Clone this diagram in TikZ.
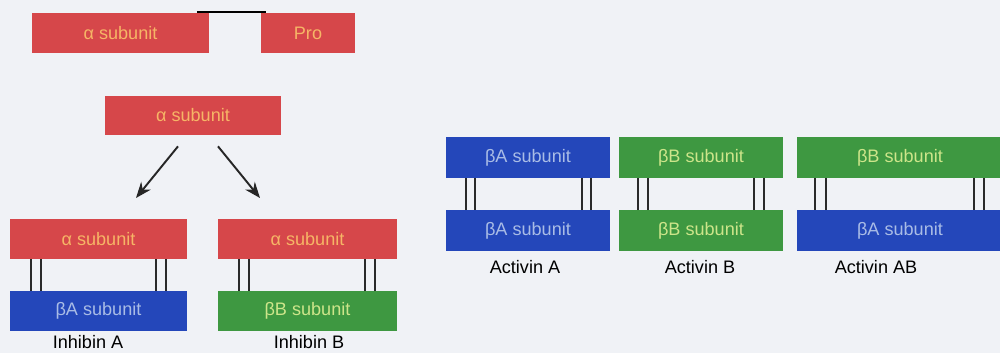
\documentclass[tikz,border=0pt]{standalone}
\usepackage{fontspec}
\setmainfont{Liberation Sans}
\usetikzlibrary{arrows.meta}
\definecolor{bgc}{HTML}{F0F2F6}
\definecolor{alphaC}{HTML}{D6474A}
\definecolor{alphaT}{HTML}{F6B566}
\definecolor{betaAC}{HTML}{2447BA}
\definecolor{betaAT}{HTML}{A9BCE6}
\definecolor{betaBC}{HTML}{3E9841}
\definecolor{betaBT}{HTML}{CDE58A}
\definecolor{linkC}{HTML}{2A2A2A}
\tikzset{
  box/.style={rectangle, inner sep=0pt, minimum height=0.8cm,
    font=\fontsize{10.3}{12}\selectfont},
  asub/.style={box, fill=alphaC, text=alphaT},
  basub/.style={box, fill=betaAC, text=betaAT},
  bbsub/.style={box, fill=betaBC, text=betaBT},
  tag/.style={font=\fontsize{10.3}{12}\selectfont, text=black},
  link/.style={draw=linkC, line width=1.1pt},
  arr/.style={draw=black!85, line width=1.1pt, -{Stealth[length=9pt,width=7pt]}}
}
\begin{document}
\begin{tikzpicture}[x=0.02cm, y=-0.02cm]
\fill[bgc] (0,0) rectangle (1000,353);
\useasboundingbox (0,0) rectangle (1000,353);

% precursor: alpha subunit and pro region
\node[asub, minimum width=3.54cm] (pa) at (120.5,33) {α subunit};
\node[asub, minimum width=1.88cm] (pro) at (308,33) {Pro};
\draw[draw=black, line width=1.1pt] ([xshift=-0.24cm,yshift=0.02cm]pa.north east) -- ([xshift=0.1cm,yshift=0.02cm]pro.north west);

% mature alpha subunit
\node[asub, minimum width=3.52cm, minimum height=0.78cm] (ma) at (193,115.5) {α subunit};
\coordinate (tipA) at (136,198);
\coordinate (tipB) at (260,198);
\draw[arr] ([xshift=-0.3cm,yshift=-0.22cm]ma.south) -- (tipA);
\draw[arr] ([xshift=0.5cm,yshift=-0.22cm]ma.south) -- (tipB);

% inhibin A
\node[asub, minimum width=3.54cm] (iaT) at (98.5,239) {α subunit};
\node[basub, minimum width=3.54cm] (iaB) at (98.5,311) {βA subunit};
\node[tag] (iaL) at (88,342) {Inhibin A};

% inhibin B
\node[asub, minimum width=3.58cm] (ibT) at (307.5,239) {α subunit};
\node[bbsub, minimum width=3.58cm] (ibB) at (307.5,311) {βB subunit};
\node[tag] (ibL) at (309,342) {Inhibin B};

% activin A
\node[basub, minimum width=3.28cm, minimum height=0.82cm] (aaT) at (528,157.5) {βA subunit};
\node[basub, minimum width=3.28cm, minimum height=0.82cm] (aaB) at (528,230.5) {βA subunit};
\node[tag] (aaL) at (525,267) {Activin A};

% activin B
\node[bbsub, minimum width=3.28cm, minimum height=0.82cm] (abT) at (701,157.5) {βB subunit};
\node[bbsub, minimum width=3.28cm, minimum height=0.82cm] (abB) at (701,230.5) {βB subunit};
\node[tag] (abL) at (700,267) {Activin B};

% activin AB
\node[bbsub, minimum width=4.12cm, minimum height=0.82cm] (acT) at (900,157.5) {βB subunit};
\node[basub, minimum width=4.12cm, minimum height=0.82cm] (acB) at (900,230.5) {βA subunit};
\node[tag] (acL) at (876,267) {Activin AB};

% disulfide links
\foreach \t/\b/\a/\bb/\c/\d in {iaT/iaB/21/31/-31/-21, ibT/ibB/21/31/-32/-22,
  aaT/aaB/20/29/-28/-19, abT/abB/19/29/-29/-19, acT/acB/18/29/-29/-19}{
  \draw[link] ([xshift=\a*0.02cm]\t.south west) -- ([xshift=\a*0.02cm]\b.north west);
  \draw[link] ([xshift=\bb*0.02cm]\t.south west) -- ([xshift=\bb*0.02cm]\b.north west);
  \draw[link] ([xshift=\c*0.02cm]\t.south east) -- ([xshift=\c*0.02cm]\b.north east);
  \draw[link] ([xshift=\d*0.02cm]\t.south east) -- ([xshift=\d*0.02cm]\b.north east);
}
\end{tikzpicture}
\end{document}
